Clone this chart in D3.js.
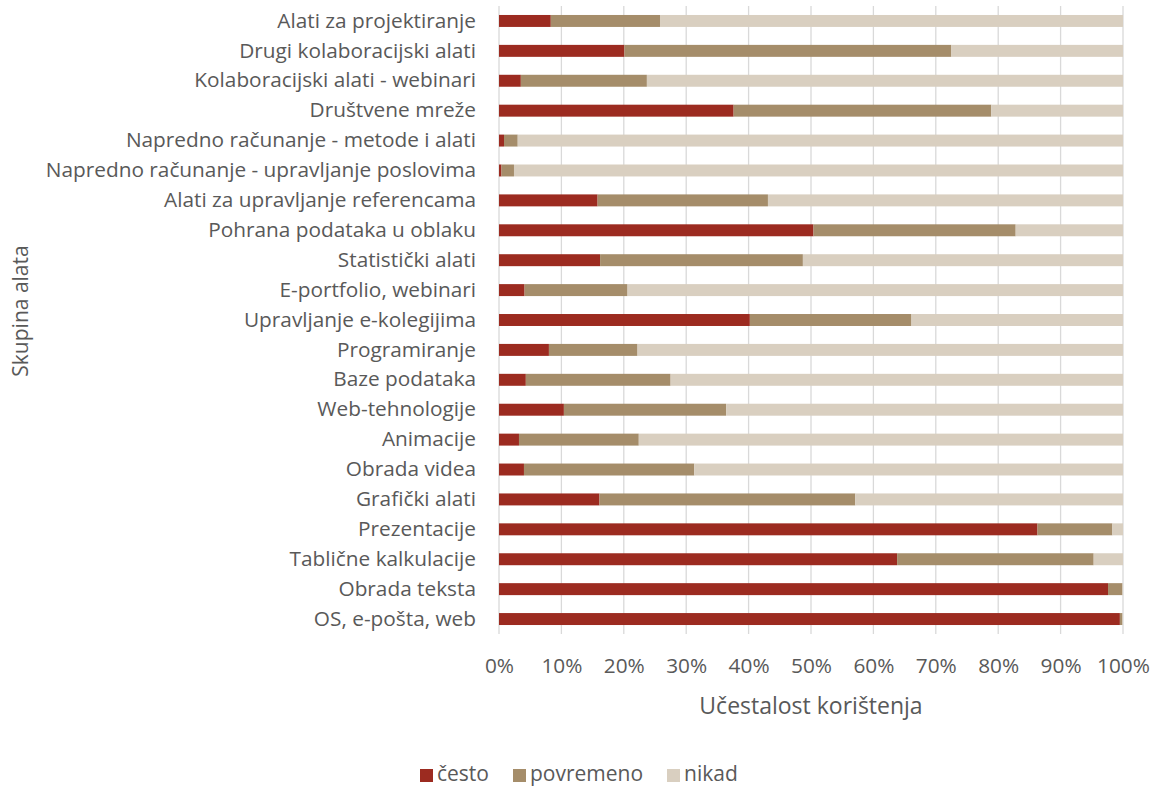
<!DOCTYPE html>
<html>
<head>
<meta charset="utf-8">
<script src="https://cdn.jsdelivr.net/npm/d3@7"></script>
<style>
  body { margin: 0; background: #fff; }
  text { font-family: "Open Sans", sans-serif; fill: #595959; }
</style>
</head>
<body>
<svg id="chart" width="1155" height="786"></svg>
<script>
// categories top to bottom
const categories = [
    "Alati za projektiranje",
    "Drugi kolaboracijski alati",
    "Kolaboracijski alati - webinari",
    "Društvene mreže",
    "Napredno računanje - metode i alati",
    "Napredno računanje - upravljanje poslovima",
    "Alati za upravljanje referencama",
    "Pohrana podataka u oblaku",
    "Statistički alati",
    "E-portfolio, webinari",
    "Upravljanje e-kolegijima",
    "Programiranje",
    "Baze podataka",
    "Web-tehnologije",
    "Animacije",
    "Obrada videa",
    "Grafički alati",
    "Prezentacije",
    "Tablične kalkulacije",
    "Obrada teksta",
    "OS, e-pošta, web"
];

// percentages
const cesto      = [8.3, 20.1, 3.5, 37.6, 0.8, 0.4, 15.8, 50.4, 16.2, 4.1, 40.2, 8.0, 4.3, 10.4, 3.2, 4.0, 16.1, 86.3, 63.8, 97.6, 99.5];
const povremeno  = [17.5, 52.4, 20.2, 41.3, 2.2, 2.0, 27.3, 32.4, 32.5, 16.5, 25.9, 14.2, 23.2, 26.0, 19.2, 27.3, 41.0, 12.0, 31.5, 2.3, 0.4];
const nikad      = cesto.map((c, i) => 100 - c - povremeno[i]);

const seriesNames = ["često", "povremeno", "nikad"];
const colors = ["#9C2B20", "#A58D6A", "#D9CFC0"];
const tickValues = [0, 0.1, 0.2, 0.3, 0.4, 0.5, 0.6, 0.7, 0.8, 0.9, 1];

const svg = d3.select("#chart");
const margin = {left: 499, right: 32, top: 6, bottom: 152};
const width = 1155 - margin.left - margin.right;
const height = 786 - margin.top - margin.bottom;

const g = svg.append("g").attr("transform", `translate(${margin.left},${margin.top})`);

const x = d3.scaleLinear().domain([0, 1]).range([0, width]);
const y = d3.scaleBand().domain(categories).range([0, height]).paddingInner(0.6).paddingOuter(0.3);

// gridlines
g.selectAll("line.grid")
    .data(tickValues)
    .enter()
    .append("line")
    .attr("class", "grid")
    .attr("x1", d => x(d)).attr("x2", d => x(d))
    .attr("y1", 0).attr("y2", height)
    .attr("stroke", "#D9D9D9")
    .attr("stroke-width", 1.3);

// stacked data
const rows = categories.map((c, i) => ({cat: c, "često": cesto[i] / 100, "povremeno": povremeno[i] / 100, "nikad": nikad[i] / 100}));
const stack = d3.stack().keys(seriesNames)(rows);

g.selectAll("g.series")
    .data(stack)
    .enter()
    .append("g")
    .attr("class", "series")
    .attr("fill", (d, i) => colors[i])
    .selectAll("rect")
    .data(d => d)
    .enter()
    .append("rect")
    .attr("x", d => x(d[0]))
    .attr("width", d => Math.max(0, x(d[1]) - x(d[0])))
    .attr("y", d => y(d.data.cat))
    .attr("height", y.bandwidth());

// y axis labels
const yAxis = g.append("g").call(d3.axisLeft(y).tickSize(0).tickPadding(23));
yAxis.select(".domain").remove();
yAxis.selectAll("text").style("font-size", "20.8px").style("font-family", "'Open Sans', sans-serif").attr("fill", "#595959");

// x axis labels
const xAxis = g.append("g")
    .attr("transform", `translate(0,${height})`)
    .call(d3.axisBottom(x).tickValues(tickValues).tickFormat(d3.format(".0%")).tickSize(0).tickPadding(24));
xAxis.select(".domain").remove();
xAxis.selectAll("text").style("font-size", "20.8px").style("font-family", "'Open Sans', sans-serif").attr("fill", "#595959");

// axis titles
svg.append("text")
    .attr("x", margin.left + width / 2)
    .attr("y", 714)
    .attr("text-anchor", "middle")
    .style("font-size", "23px")
    .text("Učestalost korištenja");

svg.append("text")
    .attr("transform", "translate(28,311) rotate(-90)")
    .attr("text-anchor", "middle")
    .style("font-size", "21px")
    .text("Skupina alata");

// legend
const legendX = [420, 513, 667];
const legend = svg.append("g");
seriesNames.forEach((name, i) => {
    legend.append("rect")
        .attr("x", legendX[i]).attr("y", 769)
        .attr("width", 13).attr("height", 13)
        .attr("fill", colors[i]);
    legend.append("text")
        .attr("x", legendX[i] + 17).attr("y", 781)
        .style("font-size", "21px")
        .text(name);
});
</script>
</body>
</html>
